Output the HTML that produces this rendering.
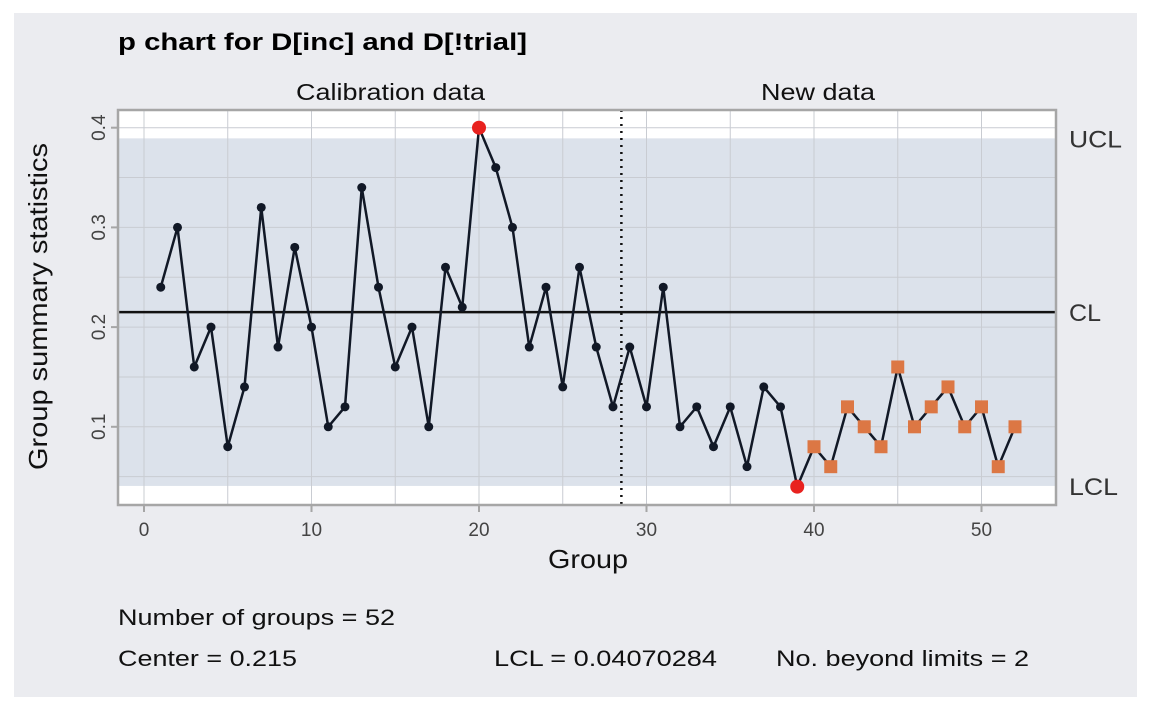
<!DOCTYPE html>
<html><head><meta charset="utf-8"><style>
body{margin:0;background:#fff;width:1152px;height:711px;overflow:hidden;font-family:"Liberation Sans",sans-serif}
</style></head><body>
<svg width="1152" height="711" xmlns="http://www.w3.org/2000/svg" font-family="Liberation Sans, sans-serif">
<rect x="14" y="13" width="1123" height="684" fill="#ebecf0"/>
<text x="118" y="50" font-size="24" font-weight="bold" fill="#000" textLength="409" lengthAdjust="spacingAndGlyphs">p chart for D[inc] and D[!trial]</text>
<g id="plot"></g>
<text x="296" y="100" font-size="23" fill="#111" textLength="189" lengthAdjust="spacingAndGlyphs">Calibration data</text>
<text x="761" y="100" font-size="23" fill="#111" textLength="114" lengthAdjust="spacingAndGlyphs">New data</text>
<text x="548" y="568" font-size="26" fill="#111" textLength="80" lengthAdjust="spacingAndGlyphs">Group</text>
<text transform="translate(47,470) rotate(-90)" font-size="26" fill="#111" textLength="327" lengthAdjust="spacingAndGlyphs">Group summary statistics</text>
<text x="118" y="625" font-size="22" fill="#111" textLength="277" lengthAdjust="spacingAndGlyphs">Number of groups = 52</text>
<text x="118" y="666" font-size="22" fill="#111" textLength="179" lengthAdjust="spacingAndGlyphs">Center = 0.215</text>
<text x="494" y="666" font-size="22" fill="#111" textLength="223" lengthAdjust="spacingAndGlyphs">LCL = 0.04070284</text>
<text x="776" y="666" font-size="22" fill="#111" textLength="253" lengthAdjust="spacingAndGlyphs">No. beyond limits = 2</text>
</svg>
<script>
const groups=[1,2,3,4,5,6,7,8,9,10,11,12,13,14,15,16,17,18,19,20,21,22,23,24,25,26,27,28,29,30,31,32,33,34,35,36,37,38,39,40,41,42,43,44,45,46,47,48,49,50,51,52];
const values=[0.24,0.30,0.16,0.20,0.08,0.14,0.32,0.18,0.28,0.20,0.10,0.12,0.34,0.24,0.16,0.20,0.10,0.26,0.22,0.40,0.36,0.30,0.18,0.24,0.14,0.26,0.18,0.12,0.18,0.12,0.24,0.10,0.12,0.08,0.12,0.06,0.14,0.12,0.04,0.08,0.06,0.12,0.10,0.08,0.16,0.10,0.12,0.14,0.10,0.12,0.06,0.10];
const xTicks=[0,10,20,30,40,50];
const yTicks=[0.1,0.2,0.3,0.4];
const center=0.215, ucl=0.3893, lcl=0.04070284, nCalib=28;
const L=118,R=1056,T=110,B=505;
const sx=v=>144+v*16.75, sy=v=>526.5-v*997;
const NS='http://www.w3.org/2000/svg', g=document.getElementById('plot');
function mk(t,a){const e=document.createElementNS(NS,t);for(const k in a)e.setAttribute(k,a[k]);g.appendChild(e);return e;}
let e=mk('rect',{x:L,y:T,width:R-L,height:B-T,fill:'#fff'});

e=mk('rect',{x:L,y:sy(ucl),width:R-L,height:sy(lcl)-sy(ucl),fill:'#dce2eb'});

for(let v=0;v<=55;v+=5){const x=sx(v);if(x<L||x>R)continue;e=mk('line',{x1:x,x2:x,y1:T,y2:B,stroke:'#c9ccd2','stroke-width':1});
}
for(let k=1;k<=8;k++){const y=sy(k*0.05);if(y<T||y>B)continue;e=mk('line',{x1:L,x2:R,y1:y,y2:y,stroke:'#c9ccd2','stroke-width':1});
}
e=mk('line',{x1:L,x2:R,y1:sy(center),y2:sy(center),stroke:'#111','stroke-width':2.5});

e=mk('line',{x1:sx(nCalib+0.5),x2:sx(nCalib+0.5),y1:T,y2:B,stroke:'#111','stroke-width':2.5,'stroke-dasharray':'2 5'});

e=mk('rect',{x:L,y:T,width:R-L,height:B-T,fill:'none',stroke:'#a6a6a6','stroke-width':2.5});

xTicks.forEach(v=>{e=mk('line',{x1:sx(v),x2:sx(v),y1:B,y2:B+7,stroke:'#a6a6a6','stroke-width':2});

e=mk('text',{x:sx(v),y:B+31,'font-size':19,'text-anchor':'middle',fill:'#444'});e.textContent=v;
});
yTicks.forEach(v=>{e=mk('line',{x1:L-7,x2:L,y1:sy(v),y2:sy(v),stroke:'#a6a6a6','stroke-width':2});

e=mk('text',{transform:`translate(${L-13},${sy(v)}) rotate(-90)`,'font-size':19,'text-anchor':'middle',fill:'#444'});e.textContent=v;
});
[['UCL',ucl,53],['CL',center,32],['LCL',lcl,49]].forEach(([t,v,w])=>{e=mk('text',{x:1069,y:sy(v)+9,'font-size':24,fill:'#333',textLength:w,lengthAdjust:'spacingAndGlyphs'});e.textContent=t;
});
e=mk('polyline',{points:groups.map((gx,i)=>sx(gx)+','+sy(values[i])).join(' '),fill:'none',stroke:'#111826','stroke-width':2.5});

groups.forEach((gx,i)=>{const v=values[i],x=sx(gx),y=sy(v);
if(v>ucl||v<lcl){e=mk('circle',{cx:x,cy:y,r:7,fill:'#e8221f'});
}
else if(gx>nCalib+11){e=mk('rect',{x:x-6.5,y:y-6.5,width:13,height:13,fill:'#dc7744'});
}
else{e=mk('circle',{cx:x,cy:y,r:4.5,fill:'#111826'});
}});
</script>
</body></html>
